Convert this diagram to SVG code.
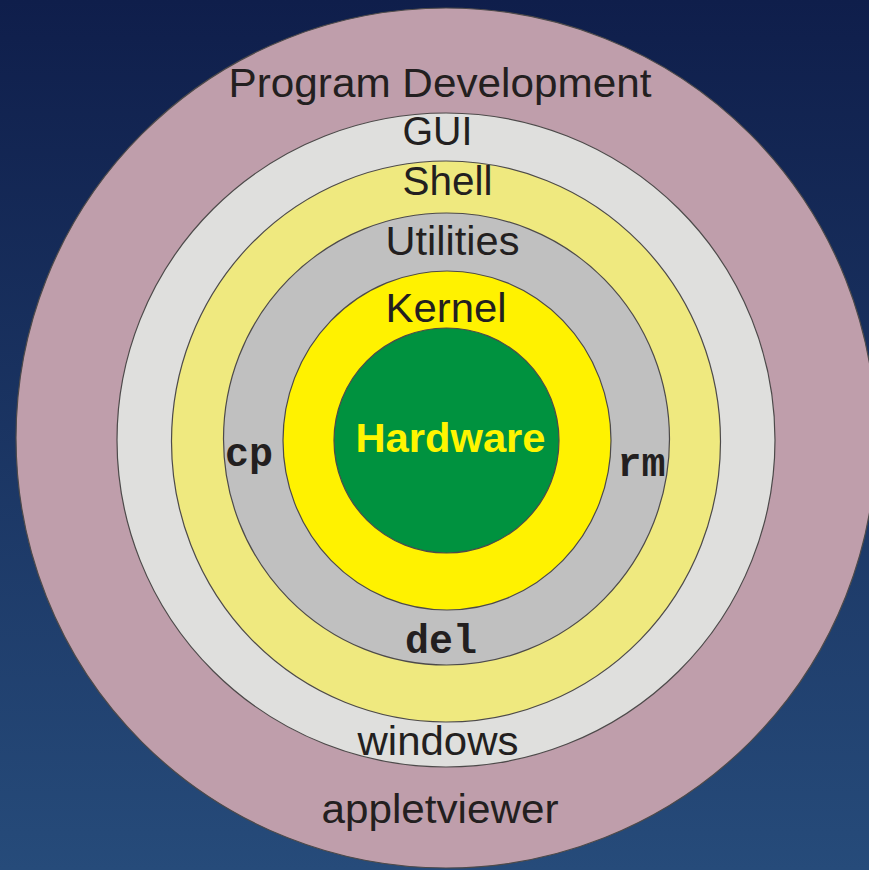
<svg xmlns="http://www.w3.org/2000/svg" width="869" height="870" viewBox="0 0 869 870">
  <defs>
    <linearGradient id="bg" x1="0" y1="0" x2="0" y2="1">
      <stop offset="0" stop-color="#0f1e4b"/>
      <stop offset="1" stop-color="#264b7a"/>
    </linearGradient>
    <style>
      .ring { stroke: #4d4a4a; stroke-width: 1.2; }
      .lbl { font-family: "Liberation Sans", Arial, sans-serif; font-size: 40px; fill: #231f20; text-anchor: middle; }
      .cmd { font-family: "Liberation Mono", "Courier New", monospace; font-weight: bold; font-size: 40px; fill: #231f20; text-anchor: middle; }
      .hw { font-family: "Liberation Sans", Arial, sans-serif; font-weight: bold; font-size: 41px; fill: #fff500; text-anchor: middle; }
    </style>
  </defs>
  <rect x="0" y="0" width="869" height="870" fill="url(#bg)"/>

  <g id="program-development">
    <circle class="ring" cx="446" cy="438" r="430" fill="#bf9eab"/>
    <text class="lbl" x="440" y="97" textLength="423" lengthAdjust="spacingAndGlyphs">Program Development</text>
    <text class="lbl" x="440" y="823" textLength="237" lengthAdjust="spacingAndGlyphs">appletviewer</text>
  </g>

  <g id="gui">
    <ellipse class="ring" cx="446" cy="440" rx="329" ry="327" fill="#dfdfdd"/>
    <text class="lbl" x="437.5" y="145" textLength="70" lengthAdjust="spacingAndGlyphs">GUI</text>
    <text class="lbl" x="438" y="755" textLength="161" lengthAdjust="spacingAndGlyphs">windows</text>
  </g>

  <g id="shell">
    <ellipse class="ring" cx="446" cy="441.5" rx="274.5" ry="280.5" fill="#efe97f"/>
    <text class="lbl" x="447.5" y="195" textLength="90" lengthAdjust="spacingAndGlyphs">Shell</text>
  </g>

  <g id="utilities">
    <ellipse class="ring" cx="446.5" cy="439" rx="223" ry="226" fill="#c0c0c0"/>
    <text class="lbl" x="452.5" y="255" textLength="134" lengthAdjust="spacingAndGlyphs">Utilities</text>
    <text class="cmd" x="249" y="466">cp</text>
    <text class="cmd" x="641.5" y="476">rm</text>
    <text class="cmd" x="441" y="653">del</text>
  </g>

  <g id="kernel">
    <ellipse class="ring" cx="447" cy="440.5" rx="164" ry="169.5" fill="#fff200"/>
    <text class="lbl" x="446" y="322" textLength="121" lengthAdjust="spacingAndGlyphs">Kernel</text>
  </g>

  <g id="hardware">
    <ellipse class="ring" cx="446.5" cy="440.5" rx="112.5" ry="112.5" fill="#00923f"/>
    <text class="hw" x="450.5" y="452" textLength="190" lengthAdjust="spacingAndGlyphs">Hardware</text>
  </g>

  <g id="connectors"/>
</svg>
